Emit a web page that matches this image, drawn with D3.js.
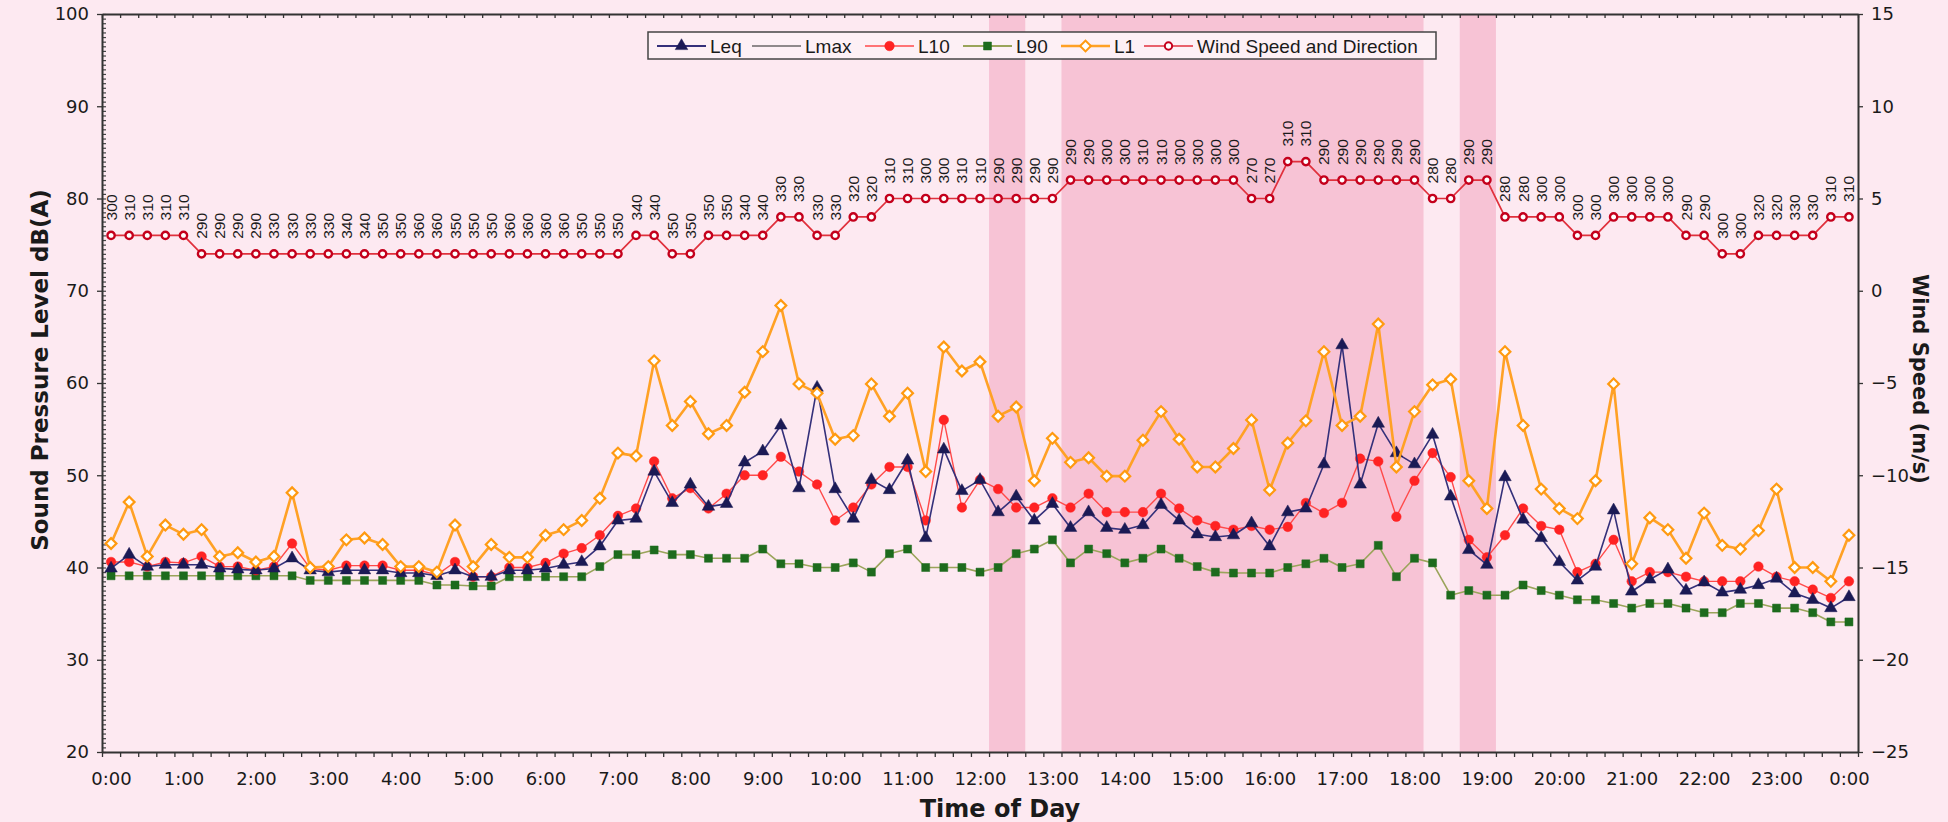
<!DOCTYPE html>
<html><head><meta charset="utf-8">
<script src="https://cdn.jsdelivr.net/npm/d3@7"></script>
<style>html,body{margin:0;padding:0;background:#fde9f1;} svg{display:block}</style>
</head><body><svg id="c" width="1948" height="822"></svg>
<script>
// ---------- DATA ----------
const tickLabels = ["0:00","1:00","2:00","3:00","4:00","5:00","6:00","7:00","8:00","9:00","10:00","11:00","12:00",
  "13:00","14:00","15:00","16:00","17:00","18:00","19:00","20:00","21:00","22:00","23:00","0:00"];
// 15-minute categories 0:00 ... 23:45, 0:00
const times = [];
for (let h = 0; h < 24; h++) for (const m of ["00","15","30","45"]) times.push(h + ":" + m);
times.push("0:00");

const leq = [39.9,41.4,40.1,40.3,40.3,40.3,39.9,39.8,39.7,39.9,
  41.0,39.7,39.5,39.7,39.7,39.7,39.4,39.4,39.1,39.7,
  39.0,39.0,39.7,39.7,39.9,40.3,40.6,42.3,45.1,45.3,
  50.4,47.0,49.0,46.6,46.9,51.4,52.6,55.4,48.6,59.5,
  48.5,45.3,49.5,48.4,51.6,43.2,52.8,48.3,49.5,46.0,
  47.7,45.1,46.9,44.3,46.0,44.3,44.1,44.6,46.8,45.1,
  43.6,43.3,43.5,44.8,42.3,46.0,46.4,51.2,64.1,49.0,
  55.6,52.4,51.2,54.4,47.7,41.9,40.3,49.8,45.2,43.2,
  40.6,38.6,40.1,46.2,37.4,38.7,39.8,37.5,38.4,37.3,
  37.6,38.1,38.8,37.2,36.5,35.6,36.8];
const l10 = [40.6,40.6,40.1,40.6,40.5,41.2,40.1,40.1,39.7,40.1,
  42.6,39.9,39.7,40.2,40.2,40.2,39.7,39.7,39.2,40.6,
  39.0,39.0,40.0,40.0,40.5,41.5,42.1,43.5,45.6,46.4,
  51.5,47.5,48.6,46.4,48.0,50.0,50.0,52.0,50.4,49.0,
  45.1,46.5,49.0,50.9,50.9,45.1,56.0,46.5,49.5,48.5,
  46.5,46.5,47.5,46.5,48.0,46.0,46.0,46.0,48.0,46.4,
  45.1,44.5,44.1,44.5,44.1,44.4,47.0,45.9,47.0,51.8,
  51.5,45.5,49.4,52.4,49.8,43.0,41.1,43.5,46.4,44.5,
  44.1,39.5,40.4,43.0,38.5,39.5,39.5,39.0,38.5,38.5,
  38.5,40.1,39.0,38.5,37.6,36.7,38.5];
const l90 = [39.1,39.1,39.1,39.1,39.1,39.1,39.1,39.1,39.1,39.1,
  39.1,38.6,38.6,38.6,38.6,38.6,38.6,38.6,38.1,38.1,
  38.0,38.0,39.0,39.0,39.0,39.0,39.0,40.1,41.4,41.4,
  41.9,41.4,41.4,41.0,41.0,41.0,42.0,40.4,40.4,40.0,
  40.0,40.5,39.5,41.5,42.0,40.0,40.0,40.0,39.5,40.0,
  41.5,42.0,43.0,40.5,42.0,41.5,40.5,41.0,42.0,41.0,
  40.1,39.5,39.4,39.4,39.4,40.0,40.4,41.0,40.0,40.4,
  42.4,39.0,41.0,40.5,37.0,37.5,37.0,37.0,38.1,37.5,
  37.0,36.5,36.5,36.1,35.6,36.1,36.1,35.6,35.1,35.1,
  36.1,36.1,35.6,35.6,35.1,34.1,34.1];
const l1 = [42.6,47.1,41.2,44.6,43.6,44.1,41.2,41.6,40.6,41.2,
  48.1,40.0,40.1,43.0,43.2,42.5,40.1,40.1,39.5,44.6,
  40.1,42.5,41.1,41.1,43.5,44.1,45.1,47.5,52.4,52.1,
  62.4,55.4,58.0,54.5,55.4,59.0,63.4,68.4,59.9,58.9,
  53.9,54.3,59.9,56.4,58.9,50.4,63.9,61.3,62.3,56.4,
  57.4,49.4,54.0,51.4,51.9,49.9,49.9,53.8,56.9,53.9,
  50.9,50.9,52.9,56.0,48.4,53.5,55.9,63.4,55.4,56.4,
  66.4,50.9,56.9,59.8,60.4,49.4,46.4,63.4,55.4,48.5,
  46.4,45.3,49.4,59.9,40.4,45.4,44.1,41.0,45.9,42.4,
  42.0,44.0,48.5,40.0,40.0,38.5,43.5];
const windSpeed = [3,3,3,3,3,2,2,2,2,2,2,2,2,2,2,2,2,2,2,2,2,2,2,2,2,2,2,2,2,
  3,3,2,2,3,3,3,3,4,4,3,3,4,4,
  5,5,5,5,5,5,5,5,5,5, 6,6,6,6,6,6,6,6,6,6, 5,5, 7,7, 6,6,6,6,6,6, 5,5, 6,6,
  4,4,4,4, 3,3, 4,4,4,4, 3,3, 2,2, 3,3,3,3, 4,4];
const windDir = [300,310,310,310,310,290,290,290,290,330,330,330,330,340,340,350,350,360,360,
  350,350,350,360,360,360,360,350,350,350,340,340,350,350,350,350,340,340,330,330,330,330,320,320,
  310,310,300,300,310,310,290,290,290,290,290,290,300,300,310,310,300,300,300,300,270,270,310,310,
  290,290,290,290,290,290,280,280,290,290,280,280,300,300,300,300,300,300,300,300,290,290,300,300,
  320,320,330,330,310,310];
const bandRanges = [["12:15","12:30"],["13:15","18:00"],["18:45","19:00"]];
const legendNames = ["Leq","Lmax","L10","L90","L1","Wind Speed and Direction"];

// ---------- STYLE / LAYOUT ----------
const BG = "#fde9f1", BAND = "#f7c3d5";
const L = 102, R = 1858, T = 14, B = 752;
const FONT = "'DejaVu Sans', Verdana, sans-serif";
const svg = d3.select("#c");

const x = d3.scalePoint().domain(d3.range(times.length)).range([L, R]).padding(0.5);
const step = x.step();
const xb = d3.scaleLinear().domain([0, times.length]).range([L, R]);
const yL = d3.scaleLinear().domain([20, 100]).range([B, T]);
const yR = d3.scaleLinear().domain([-25, 15]).range([B, T]);

svg.append("rect").attr("width", 1948).attr("height", 822).attr("fill", BG);

// shaded bands
bandRanges.forEach(([a, b]) => {
  const i0 = times.indexOf(a), i1 = times.indexOf(b);
  svg.append("rect").attr("x", x(i0) - step / 2).attr("y", T)
    .attr("width", x(i1) - x(i0) + step).attr("height", B - T).attr("fill", BAND);
});

function styleAxis(g, size) {
  g.attr("font-family", FONT).attr("font-size", size);
  g.selectAll("text").attr("fill", "#1a1a1a");
  g.selectAll("line").attr("stroke", "#333").attr("stroke-width", 1.3);
  g.select(".domain").attr("stroke", "#333").attr("stroke-width", 2);
}

// left axis minor ticks
svg.append("g").attr("transform", `translate(${L},0)`)
  .call(d3.axisRight(yL).tickValues(d3.range(20, 100.01, 0.5)).tickSize(4).tickSizeOuter(0).tickFormat(""))
  .call(g => { g.select(".domain").remove(); g.selectAll("line").attr("stroke", "#444").attr("stroke-width", 1.2); });
// left axis
svg.append("g").attr("transform", `translate(${L},0)`)
  .call(d3.axisLeft(yL).tickValues(d3.range(20, 101, 10)).tickSize(5).tickSizeOuter(0).tickPadding(8))
  .call(g => styleAxis(g, 18));
// right axis
svg.append("g").attr("transform", `translate(${R},0)`)
  .call(d3.axisRight(yR).tickValues(d3.range(-25, 16, 5)).tickSize(5).tickSizeOuter(0).tickPadding(8))
  .call(g => styleAxis(g, 18));
// top border ticks
svg.append("g").attr("transform", `translate(0,${T})`)
  .call(d3.axisBottom(xb).tickValues(d3.range(0, times.length + 1)).tickSize(4).tickSizeOuter(0).tickFormat(""))
  .call(g => styleAxis(g, 10));
// bottom ticks
svg.append("g").attr("transform", `translate(0,${B})`)
  .call(d3.axisBottom(xb).tickValues(d3.range(0, times.length + 1)).tickSize(5).tickSizeOuter(0).tickFormat(""))
  .call(g => styleAxis(g, 10));
// bottom labels
svg.append("g").attr("transform", `translate(0,${B})`)
  .call(d3.axisBottom(x).tickValues(d3.range(0, times.length, 4)).tickSize(0).tickPadding(20)
    .tickFormat(i => tickLabels[i / 4]))
  .call(g => { g.select(".domain").remove(); styleAxis(g, 18); });

// axis titles
svg.append("text").attr("transform", `translate(40,370) rotate(-90)`).attr("text-anchor", "middle")
  .attr("dominant-baseline", "central").attr("font-family", FONT).attr("font-weight", "bold")
  .attr("font-size", 23).attr("fill", "#1a1a1a").text("Sound Pressure Level dB(A)");
svg.append("text").attr("transform", `translate(1920,379) rotate(90)`).attr("text-anchor", "middle")
  .attr("dominant-baseline", "central").attr("font-family", FONT).attr("font-weight", "bold")
  .attr("font-size", 21).attr("fill", "#1a1a1a").text("Wind Speed (m/s)");
svg.append("text").attr("x", 1000).attr("y", 817).attr("text-anchor", "middle")
  .attr("font-family", FONT).attr("font-weight", "bold").attr("font-size", 24)
  .attr("fill", "#1a1a1a").text("Time of Day");

// ---------- series ----------
const lineL = d3.line().x((d, i) => x(i)).y(d => yL(d));
const lineR = d3.line().x((d, i) => x(i)).y(d => yR(d));

const sym = {
  tri: d3.symbol().type(d3.symbolTriangle).size(68),
  circ: d3.symbol().type(d3.symbolCircle).size(72),
  sq: d3.symbol().type(d3.symbolSquare).size(64),
  dia: d3.symbol().type(d3.symbolSquare).size(58),
  wcirc: d3.symbol().type(d3.symbolCircle).size(42)
};
const series = {
  Leq: {data: leq, line: "#34307a", lw: 1.6, sym: sym.tri, fill: "#1b1a55", stroke: "#1b1a55", sw: 0.5, rot: 0},
  L10: {data: l10, line: "#ff4a4a", lw: 1.4, sym: sym.circ, fill: "#ff2323", stroke: "#ff2323", sw: 0.5, rot: 0},
  L90: {data: l90, line: "#9aa45a", lw: 1.6, sym: sym.sq, fill: "#1d6b1d", stroke: "#1d6b1d", sw: 0.5, rot: 0},
  L1: {data: l1, line: "#ffa125", lw: 2.6, sym: sym.dia, fill: "#ffffff", stroke: "#ff9a10", sw: 2.2, rot: 45}
};

["L90", "L10", "Leq", "L1"].forEach(k => {
  const s = series[k];
  svg.append("path").datum(s.data).attr("d", lineL).attr("fill", "none")
    .attr("stroke", s.line).attr("stroke-width", s.lw).attr("stroke-linejoin", "round");
  svg.append("g").selectAll("path").data(s.data).join("path")
    .attr("transform", (d, i) => `translate(${x(i)},${yL(d)}) rotate(${s.rot})`)
    .attr("d", s.sym).attr("fill", s.fill).attr("stroke", s.stroke).attr("stroke-width", s.sw);
});

// wind
svg.append("path").datum(windSpeed).attr("d", lineR).attr("fill", "none")
  .attr("stroke", "#e0303c").attr("stroke-width", 1.7);
svg.append("g").selectAll("path").data(windSpeed).join("path")
  .attr("transform", (d, i) => `translate(${x(i)},${yR(d)})`)
  .attr("d", sym.wcirc).attr("fill", "#fff").attr("stroke", "#c4001c").attr("stroke-width", 2.4);
svg.append("g").selectAll("text").data(windDir).join("text")
  .attr("transform", (d, i) => `translate(${x(i)},${yR(windSpeed[i]) - 15}) rotate(-90)`)
  .attr("dominant-baseline", "central").attr("text-anchor", "start")
  .attr("font-family", "'Liberation Sans', Arial, sans-serif").attr("font-size", 15)
  .attr("textLength", 26).attr("lengthAdjust", "spacingAndGlyphs")
  .attr("fill", "#1a1a1a").text(d => d);

// ---------- legend ----------
const lg = svg.append("g");
lg.append("rect").attr("x", 648).attr("y", 32).attr("width", 788).attr("height", 27)
  .attr("fill", "#fdf0f5").attr("stroke", "#444").attr("stroke-width", 1.5);
const legendX = [657, 752, 865, 963, 1061, 1144];
const legendStyle = [
  {line: "#34307a", sym: sym.tri, fill: "#1b1a55", stroke: "#1b1a55", sw: 0.5, lw: 2, rot: 0},
  {line: "#222", sym: null, lw: 1.2},
  {line: "#ff4a4a", sym: sym.circ, fill: "#ff2323", stroke: "#ff2323", sw: 0.5, lw: 1.6, rot: 0},
  {line: "#9aa45a", sym: sym.sq, fill: "#1d6b1d", stroke: "#1d6b1d", sw: 0.5, lw: 1.8, rot: 0},
  {line: "#ffa125", sym: sym.dia, fill: "#fff", stroke: "#ff9a10", sw: 2, lw: 2.4, rot: 45},
  {line: "#e0303c", sym: sym.wcirc, fill: "#fff", stroke: "#c4001c", sw: 2, lw: 1.6, rot: 0}
];
legendNames.forEach((name, k) => {
  const st = legendStyle[k], x0 = legendX[k], cy = 46;
  lg.append("line").attr("x1", x0).attr("x2", x0 + 49).attr("y1", cy).attr("y2", cy)
    .attr("stroke", st.line).attr("stroke-width", st.lw);
  if (st.sym) lg.append("path").attr("transform", `translate(${x0 + 24.5},${cy}) rotate(${st.rot})`).attr("d", st.sym)
    .attr("fill", st.fill).attr("stroke", st.stroke).attr("stroke-width", st.sw);
  lg.append("text").attr("x", x0 + 53).attr("y", cy).attr("dominant-baseline", "central")
    .attr("font-family", "'Liberation Sans', Arial, sans-serif").attr("font-size", 19)
    .attr("fill", "#1a1a1a").text(name);
});
</script></body></html>
